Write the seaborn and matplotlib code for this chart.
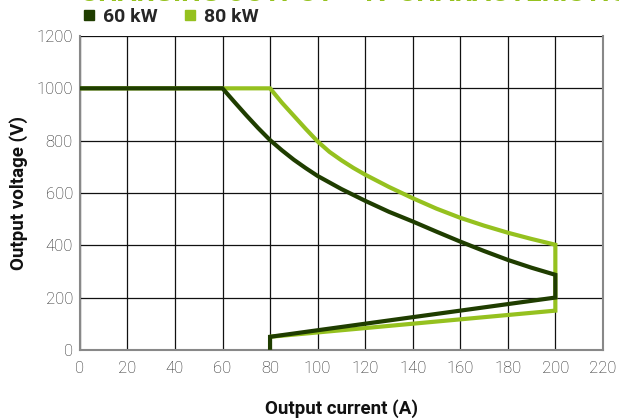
import matplotlib
matplotlib.use("Agg")
import matplotlib.pyplot as plt
from matplotlib.lines import Line2D
import seaborn as sns
import pandas as pd

# ---- data ----
current_60 = [0, 60, 65, 70, 75, 80, 85, 90, 95, 100, 110, 120, 130, 140, 150, 160, 170, 180, 190, 200, 200, 80, 80]
voltage_60 = [1000, 1000, 948, 897, 848, 802, 763, 727, 695, 665, 615, 570, 528, 491, 452, 414, 378, 344, 314, 287, 200, 50, 0]
current_80 = [0, 80, 85, 90, 95, 100, 105, 110, 115, 120, 130, 140, 150, 160, 170, 180, 190, 200, 200, 80]
voltage_80 = [1000, 1000, 945, 895, 845, 797, 757, 725, 696, 670, 623, 580, 540, 505, 475, 448, 424, 402, 150, 50]
series_names = ["60 kW", "80 kW"]
x_ticks = list(range(0, 221, 20))
y_ticks = list(range(0, 1201, 200))
title = "CHARGING OUTPUT – IV CHARACTERISTICS"
x_label = "Output current (A)"
y_label = "Output voltage (V)"

dark = "#1F3D00"
light = "#95C11F"

sns.set_theme(style="white")
plt.rcParams["font.family"] = ["Roboto", "DejaVu Sans"]

fig = plt.figure(figsize=(6.19, 4.19), dpi=100)
ax = fig.add_axes([0.129, 0.165, 0.845, 0.749])

df60 = pd.DataFrame({"x": current_60, "y": voltage_60})
df80 = pd.DataFrame({"x": current_80, "y": voltage_80})
kw = dict(sort=False, estimator=None, linewidth=3.0, legend=False,
          solid_joinstyle="miter", solid_capstyle="butt", zorder=3)
sns.lineplot(data=df80, x="x", y="y", color=light, ax=ax, **kw)
sns.lineplot(data=df60, x="x", y="y", color=dark, ax=ax, **kw)

ax.set_xlim(0, 220)
ax.set_ylim(0, 1200)
ax.set_xticks(x_ticks)
ax.set_yticks(y_ticks)
ax.grid(True, color="#111111", linewidth=0.9)
ax.set_axisbelow(True)
ax.tick_params(axis="both", length=0, labelsize=12, labelcolor="#222222")
ax.tick_params(axis="x", pad=8)
ax.tick_params(axis="y", pad=5)
for lab in ax.get_xticklabels() + ax.get_yticklabels():
    lab.set_fontweight("light")
for s in ["left", "bottom", "right"]:
    ax.spines[s].set_color("#888888")
    ax.spines[s].set_linewidth(1.5)
ax.spines["top"].set_visible(False)

ax.set_xlabel(x_label, fontsize=13.5, fontweight="bold", color="#111111", labelpad=17)
ax.set_ylabel(y_label, fontsize=13.5, fontweight="bold", color="#111111", labelpad=6)

fig.text(0.13, 0.9965, title, fontsize=20, fontweight="bold", color=light,
         va="baseline", ha="left")

handles = [Line2D([], [], marker="s", linestyle="none", color=dark, markersize=6.5),
           Line2D([], [], marker="s", linestyle="none", color=light, markersize=6.5)]
leg = fig.legend(handles, series_names, loc="upper left", bbox_to_anchor=(0.103, 1.022),
                 ncol=2, frameon=False, handletextpad=0.3, columnspacing=1.3,
                 prop={"size": 14, "weight": "bold"}, handlelength=0.8)

fig.savefig("out.png", dpi=100)
